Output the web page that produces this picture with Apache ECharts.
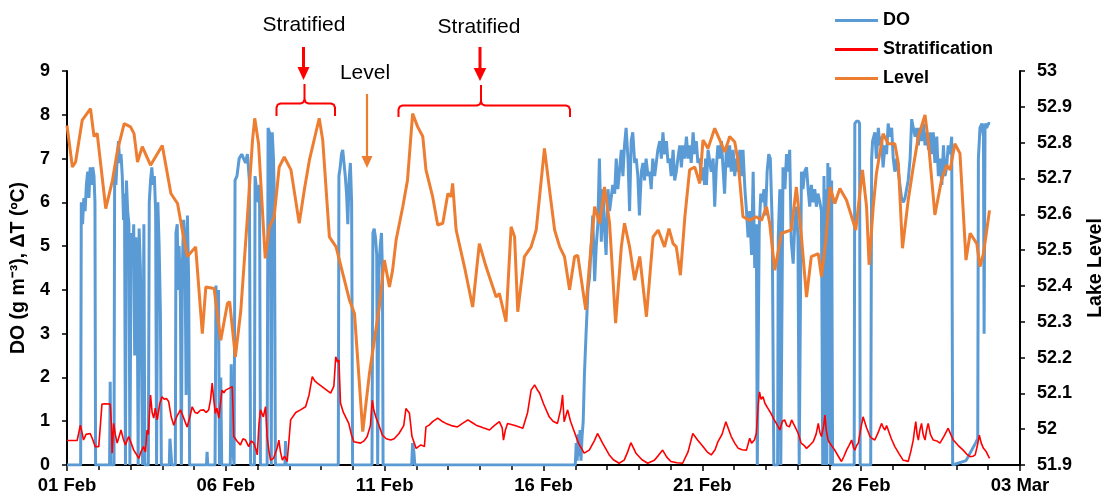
<!DOCTYPE html>
<html>
<head>
<meta charset="utf-8">
<script src="https://cdn.jsdelivr.net/npm/echarts@6/dist/echarts.min.js"></script>
<style>
html,body{margin:0;padding:0;background:#fff;}
#chart{width:1105px;height:498px;}
</style>
</head>
<body>
<div id="chart"></div>
<script>
// x values are days since 01 Feb 00:00
var xTickLabels = ['01 Feb','06 Feb','11 Feb','16 Feb','21 Feb','26 Feb','03 Mar'];
var leftTicks = [0,1,2,3,4,5,6,7,8,9];
var rightTicks = [51.9,52,52.1,52.2,52.3,52.4,52.5,52.6,52.7,52.8,52.9,53];
var seriesNames = ['DO','Stratification','Level'];

var doData = [
[0,0],[0.43,0],[0.45,6.0],[0.49,5.5],[0.53,6.1],[0.57,5.8],[0.61,6.4],[0.65,6.7],[0.69,6.1],[0.73,6.8],[0.77,6.4],[0.81,6.8],[0.85,6.6],[0.88,6.0],[0.9,0],
[1.34,0],[1.36,1.9],[1.38,0],[1.48,0],[1.5,6.8],[1.54,6.4],[1.58,7.0],[1.62,7.4],[1.66,6.9],[1.7,7.1],[1.74,6.6],[1.78,5.6],[1.81,6.2],[1.84,0],[1.87,6.5],[1.91,5.8],[1.95,5.5],[1.98,0],[2.02,5.3],[2.06,4.6],[2.1,5.5],[2.13,2.5],[2.17,5.2],[2.21,4.0],[2.24,0],[2.27,5.4],[2.31,4.5],[2.35,2.1],[2.38,0],[2.42,5.5],[2.45,0],
[2.56,0],[2.59,6.0],[2.63,6.5],[2.67,6.8],[2.71,6.4],[2.75,6.6],[2.79,5.8],[2.82,0],[2.86,6.0],[2.9,5.0],[2.94,3.5],[2.97,0],
[3.22,0],[3.24,0.6],[3.28,0.2],[3.3,0],
[3.41,0],[3.43,5.3],[3.47,5.5],[3.5,4.0],[3.53,5.0],[3.57,3.8],[3.6,0],[3.63,4.5],[3.67,5.6],[3.71,5.2],[3.75,1.6],[3.79,5.7],[3.83,4.2],[3.86,0],
[4.39,0],[4.41,0.3],[4.43,0],
[4.66,0],[4.69,4.1],[4.73,3.0],[4.77,4.0],[4.8,0],[4.84,2.0],[4.87,0],
[5.14,0],[5.17,2.3],[5.2,0.5],[5.26,0],[5.29,6.5],[5.35,6.6],[5.42,7.0],[5.5,7.1],[5.56,7.0],[5.62,6.9],[5.68,7.1],[5.74,6.5],[5.78,0],
[5.9,0],[5.92,6.6],[5.97,6.3],[6.02,6.0],[6.06,6.4],[6.09,0],
[6.3,0],[6.33,7.7],[6.37,7.6],[6.4,7.2],[6.43,0],[6.46,7.6],[6.5,7.0],[6.53,6.0],[6.56,0],
[6.86,0],[6.88,0.55],[6.9,0],
[8.54,0],[8.56,6.6],[8.6,6.8],[8.64,7.1],[8.68,7.2],[8.72,6.9],[8.76,6.6],[8.8,6.2],[8.84,5.5],[8.88,6.5],[8.92,6.9],[8.96,6.0],[8.99,0],
[9.6,0],[9.63,5.3],[9.67,5.4],[9.71,5.2],[9.75,4.8],[9.78,0],[9.82,4.5],[9.86,5.0],[9.9,5.3],[9.93,4.4],[9.95,0],
[10.85,0],[10.88,0.5],[10.92,0.3],[10.95,0],
[16.0,0],[16.03,0.5],[16.06,0.1],[16.09,0.7],[16.12,0.2],[16.15,0.8],[16.18,0.1],[16.21,0.6],[16.25,1.0],[16.29,2.1],[16.34,3.0],[16.4,4.0],[16.45,4.3],[16.5,5.0],[16.55,5.7],[16.61,4.2],[16.66,5.0],[16.71,5.5],[16.76,7.0],[16.82,5.1],[16.87,6.3],[16.92,5.4],[16.97,4.8],[17.03,6.3],[17.08,5.8],[17.13,6.1],[17.18,6.4],[17.24,6.2],[17.29,7.0],[17.34,6.3],[17.39,6.7],[17.45,7.2],[17.5,6.6],[17.55,7.3],[17.6,7.7],[17.66,7.0],[17.71,5.8],[17.76,7.4],[17.81,7.6],[17.87,6.9],[17.92,7.0],[17.97,6.6],[18.02,5.7],[18.08,6.7],[18.13,6.9],[18.18,6.5],[18.23,7.0],[18.29,6.6],[18.34,6.7],[18.39,6.3],[18.44,7.0],[18.5,6.6],[18.55,6.9],[18.6,7.2],[18.66,7.4],[18.71,7.0],[18.76,7.6],[18.81,7.1],[18.87,7.4],[18.92,6.9],[18.97,7.0],[19.02,6.6],[19.08,7.2],[19.13,6.5],[19.18,6.7],[19.23,7.0],[19.29,7.3],[19.34,6.8],[19.39,7.3],[19.44,7.0],[19.5,7.5],[19.55,7.0],[19.6,7.3],[19.65,6.9],[19.71,7.6],[19.76,7.1],[19.81,7.4],[19.86,6.9],[19.92,7.0],[19.97,6.5],
[20.02,6.8],[20.07,6.4],[20.1,7.0],[20.13,6.4],[20.18,7.2],[20.23,7.2],[20.28,6.7],[20.34,7.0],[20.39,5.9],[20.44,6.8],[20.49,7.3],[20.55,7.0],[20.6,7.4],[20.65,6.8],[20.7,6.2],[20.76,7.3],[20.81,6.8],[20.86,7.3],[20.91,6.7],[20.97,7.2],[21.02,6.6],[21.07,7.0],[21.12,6.7],[21.18,7.2],[21.23,6.6],[21.28,7.2],[21.34,6.3],[21.39,5.8],[21.44,5.2],[21.49,5.8],[21.55,4.8],[21.6,6.7],[21.65,4.5],[21.7,5.5],[21.73,0],[21.76,0],[21.79,5.4],[21.84,6.2],[21.89,6.0],[21.94,6.3],[21.99,5.7],[22.04,6.7],[22.09,7.1],[22.14,7.0],[22.2,5.5],[22.25,0],[22.37,0],[22.39,5.2],[22.44,6.3],[22.47,0],[22.5,0],[22.54,6.8],[22.6,6.3],[22.65,7.1],[22.7,6.7],[22.75,7.2],[22.8,5.1],[22.86,4.6],[22.91,5.5],[22.96,5.9],[23.01,5.2],[23.05,0],[23.08,0],[23.12,6.7],[23.17,6.3],[23.22,6.7],[23.28,6.8],[23.33,6.3],[23.38,5.9],[23.43,6.4],[23.49,6.0],[23.54,6.3],[23.59,5.9],[23.64,6.2],[23.7,6.0],[23.75,5.8],[23.79,0],[23.83,6.6],[23.86,0],[23.89,6.3],[23.92,0],[23.95,6.9],[23.98,0.5],[24.01,6.8],[24.04,0],[24.07,6.5],[24.1,0],
[24.78,0],[24.8,7.8],[24.85,7.85],[24.92,7.85],[24.95,7.8],[24.97,0],
[25.3,0],[25.33,7.0],[25.36,7.4],[25.43,7.6],[25.48,7.0],[25.54,7.7],[25.59,7.3],[25.64,7.5],[25.69,6.8],[25.75,7.3],[25.8,7.1],[25.85,7.8],[25.9,7.5],[25.96,7.7],[26.01,7.0],[26.06,6.7],[26.12,7.0],[26.17,6.7],[26.22,6.4],[26.27,6.1],[26.33,6.0],[26.38,6.1],[26.43,6.3],[26.48,6.5],[26.54,7.0],[26.59,7.9],[26.64,7.7],[26.7,7.5],[26.75,7.7],[26.8,7.3],[26.85,7.7],[26.9,7.4],[26.96,7.8],[27.01,7.3],[27.06,7.6],[27.12,7.2],[27.17,7.6],[27.22,7.1],[27.27,7.6],[27.32,6.9],[27.38,7.5],[27.43,6.6],[27.48,7.0],[27.54,6.4],[27.59,7.3],[27.64,6.6],[27.69,6.8],[27.74,7.3],[27.8,7.1],[27.85,7.5],[27.88,0],[28.3,0.1],[28.6,0.5],[28.67,0.6],[28.69,7.0],[28.74,7.7],[28.8,7.8],[28.85,7.5],[28.87,3.0],[28.9,7.8],[28.95,7.7],[29.0,7.8],[29.06,7.8]
];

var stratData = [
[0,0.56],[0.32,0.56],[0.38,0.6],[0.42,0.91],[0.47,0.75],[0.52,0.57],[0.6,0.7],[0.73,0.72],[0.8,0.6],[0.89,0.42],[1.0,0.42],[1.05,0.9],[1.1,1.39],[1.2,1.4],[1.36,1.39],[1.4,0.9],[1.42,0.27],[1.47,0.95],[1.52,0.7],[1.58,0.5],[1.64,0.65],[1.7,0.8],[1.77,0.6],[1.84,0.46],[1.94,0.65],[2.02,0.5],[2.1,0.34],[2.18,0.25],[2.26,0.15],[2.33,0.3],[2.41,0.42],[2.47,0.3],[2.52,0.8],[2.56,0.7],[2.63,1.6],[2.68,1.2],[2.73,1.07],[2.78,1.3],[2.84,1.03],[2.92,1.4],[2.99,1.56],[3.06,1.5],[3.13,1.52],[3.2,1.45],[3.28,1.1],[3.36,0.91],[3.45,1.1],[3.57,1.26],[3.66,1.1],[3.78,0.87],[3.87,1.1],[3.94,1.33],[4.03,1.2],[4.1,1.18],[4.2,1.25],[4.3,1.26],[4.38,1.2],[4.46,1.26],[4.52,1.5],[4.57,1.87],[4.62,1.5],[4.67,1.18],[4.72,1.3],[4.78,1.07],[4.83,1.4],[4.88,1.71],[4.94,1.65],[4.99,1.71],[5.1,1.75],[5.2,1.79],[5.23,1.2],[5.25,0.65],[5.35,0.55],[5.46,0.46],[5.54,0.6],[5.62,0.57],[5.72,0.42],[5.8,0.55],[5.88,0.5],[5.95,0.35],[5.99,0.23],[6.04,0.9],[6.09,1.26],[6.18,1.1],[6.25,1.33],[6.3,0.65],[6.36,0.3],[6.41,0.11],[6.5,0.15],[6.56,0.19],[6.62,0.4],[6.67,0.57],[6.72,0.3],[6.78,0.11],[6.85,0.2],[6.93,0.08],[6.98,0.5],[7.04,1.03],[7.2,1.2],[7.35,1.26],[7.51,1.33],[7.62,1.6],[7.72,2.02],[7.8,1.92],[7.88,1.87],[8.1,1.75],[8.3,1.64],[8.4,1.8],[8.46,2.47],[8.52,2.35],[8.56,2.4],[8.61,1.41],[8.7,1.2],[8.87,0.95],[8.95,0.7],[9.03,0.53],[9.24,0.5],[9.35,0.55],[9.45,0.65],[9.55,0.9],[9.61,1.48],[9.66,1.25],[9.72,1.1],[9.82,0.91],[9.93,0.68],[10.05,0.6],[10.19,0.57],[10.3,0.6],[10.45,0.72],[10.6,0.9],[10.67,1.29],[10.72,1.33],[10.78,1.18],[10.86,0.65],[10.99,0.38],[11.14,0.46],[11.25,0.42],[11.3,0.87],[11.4,0.91],[11.51,0.99],[11.67,1.07],[11.8,1.0],[11.93,0.95],[12.1,0.9],[12.29,0.87],[12.45,0.95],[12.62,1.03],[12.75,0.97],[12.88,0.91],[13.1,0.85],[13.3,0.8],[13.45,0.9],[13.61,0.99],[13.7,0.85],[13.74,0.57],[13.8,0.8],[13.87,0.95],[14.1,0.9],[14.35,0.84],[14.5,1.2],[14.61,1.71],[14.72,1.83],[14.76,1.87],[14.82,1.7],[14.88,1.64],[15.0,1.4],[15.18,1.1],[15.3,1.0],[15.44,0.95],[15.55,1.3],[15.6,1.6],[15.65,0.99],[15.76,1.26],[15.85,1.0],[15.97,0.76],[16.1,0.5],[16.28,0.27],[16.44,0.34],[16.6,0.55],[16.7,0.72],[16.86,0.5],[17.07,0.23],[17.2,0.12],[17.38,0.04],[17.54,0.11],[17.65,0.3],[17.75,0.51],[17.91,0.27],[18.1,0.12],[18.28,0.04],[18.49,0.11],[18.62,0.22],[18.75,0.34],[18.88,0.18],[19.01,0.08],[19.2,0.05],[19.38,0.04],[19.55,0.3],[19.7,0.72],[19.85,0.57],[20.02,0.42],[20.15,0.3],[20.28,0.23],[20.4,0.35],[20.49,0.53],[20.62,0.7],[20.74,0.99],[20.91,0.65],[21.02,0.5],[21.13,0.38],[21.25,0.35],[21.39,0.34],[21.49,0.61],[21.55,0.5],[21.64,0.57],[21.7,0.72],[21.76,1.4],[21.8,1.67],[21.85,1.5],[21.91,1.56],[21.97,1.41],[22.06,1.3],[22.16,1.18],[22.25,1.05],[22.33,0.95],[22.44,0.8],[22.52,1.0],[22.59,1.03],[22.66,0.9],[22.74,0.87],[22.81,1.03],[22.9,0.9],[23.02,0.72],[23.11,0.5],[23.2,0.45],[23.28,0.38],[23.38,0.45],[23.49,0.53],[23.58,0.7],[23.65,0.95],[23.7,0.75],[23.75,0.65],[23.82,0.9],[23.86,1.14],[23.9,0.8],[23.96,0.57],[24.06,0.45],[24.17,0.34],[24.28,0.2],[24.38,0.08],[24.46,0.2],[24.54,0.34],[24.62,0.45],[24.7,0.57],[24.76,0.4],[24.8,0.34],[24.86,0.45],[24.91,0.5],[24.98,0.8],[25.06,1.1],[25.17,0.85],[25.28,0.65],[25.36,0.6],[25.43,0.57],[25.54,0.75],[25.64,0.95],[25.7,0.85],[25.75,0.8],[25.8,0.9],[25.85,0.87],[25.95,0.6],[26.06,0.42],[26.2,0.25],[26.32,0.11],[26.4,0.1],[26.48,0.08],[26.56,0.3],[26.64,0.57],[26.68,0.8],[26.72,0.99],[26.76,0.7],[26.8,0.57],[26.85,0.8],[26.9,0.95],[26.95,0.7],[27.01,0.57],[27.06,0.8],[27.11,0.95],[27.18,0.7],[27.27,0.57],[27.38,0.55],[27.48,0.5],[27.6,0.65],[27.74,0.84],[27.82,0.7],[27.9,0.57],[28.05,0.45],[28.21,0.34],[28.32,0.25],[28.43,0.19],[28.52,0.2],[28.59,0.23],[28.66,0.45],[28.72,0.68],[28.78,0.5],[28.85,0.38],[28.94,0.3],[29.04,0.15]
];

var levelData = [
[0.0,52.848],[0.17,52.732],[0.27,52.746],[0.48,52.863],[0.74,52.895],[0.85,52.817],[0.95,52.826],[1.22,52.616],[1.43,52.694],[1.59,52.779],[1.80,52.853],[2.00,52.844],[2.11,52.825],[2.22,52.746],[2.37,52.789],[2.63,52.737],[3.00,52.792],[3.27,52.658],[3.48,52.630],[3.62,52.560],[3.79,52.482],[4.05,52.509],[4.26,52.267],[4.37,52.397],[4.63,52.393],[4.84,52.248],[5.05,52.351],[5.12,52.356],[5.30,52.202],[5.47,52.330],[5.68,52.593],[5.84,52.807],[5.91,52.868],[6.03,52.797],[6.24,52.477],[6.37,52.565],[6.52,52.593],[6.68,52.732],[6.84,52.760],[7.05,52.724],[7.31,52.575],[7.47,52.668],[7.63,52.751],[7.94,52.868],[8.05,52.807],[8.26,52.537],[8.47,52.509],[8.89,52.361],[9.05,52.323],[9.31,51.993],[9.52,52.155],[9.83,52.341],[9.99,52.472],[10.15,52.397],[10.25,52.444],[10.36,52.528],[10.57,52.621],[10.72,52.696],[10.88,52.881],[11.04,52.844],[11.20,52.817],[11.30,52.724],[11.51,52.649],[11.67,52.570],[11.83,52.575],[11.99,52.658],[12.09,52.649],[12.14,52.686],[12.25,52.556],[12.51,52.454],[12.77,52.341],[12.98,52.518],[13.19,52.454],[13.51,52.369],[13.61,52.379],[13.82,52.300],[13.98,52.565],[14.09,52.537],[14.19,52.328],[14.40,52.482],[14.61,52.509],[14.77,52.556],[15.03,52.784],[15.19,52.668],[15.35,52.556],[15.51,52.509],[15.66,52.482],[15.82,52.389],[15.98,52.482],[16.08,52.485],[16.33,52.333],[16.45,52.462],[16.61,52.621],[16.77,52.575],[16.92,52.676],[17.08,52.575],[17.27,52.296],[17.45,52.509],[17.55,52.575],[17.71,52.509],[17.87,52.416],[18.03,52.482],[18.24,52.314],[18.45,52.537],[18.61,52.556],[18.81,52.509],[18.95,52.560],[19.08,52.518],[19.18,52.509],[19.31,52.430],[19.45,52.593],[19.60,52.724],[19.76,52.732],[19.92,52.686],[20.02,52.807],[20.18,52.784],[20.39,52.840],[20.55,52.807],[20.71,52.774],[20.86,52.817],[21.02,52.802],[21.12,52.751],[21.28,52.593],[21.49,52.583],[21.70,52.593],[21.86,52.583],[22.02,52.621],[22.12,52.575],[22.28,52.444],[22.49,52.547],[22.80,52.556],[22.96,52.676],[23.12,52.537],[23.28,52.369],[23.43,52.482],[23.65,52.490],[23.75,52.426],[23.89,52.528],[24.02,52.676],[24.17,52.630],[24.33,52.672],[24.54,52.639],[24.70,52.593],[24.83,52.556],[25.04,52.724],[25.17,52.621],[25.25,52.459],[25.38,52.621],[25.48,52.714],[25.69,52.825],[25.85,52.797],[26.06,52.797],[26.17,52.742],[26.30,52.505],[26.48,52.639],[26.64,52.732],[26.80,52.817],[27.01,52.877],[27.11,52.807],[27.32,52.598],[27.53,52.696],[27.69,52.737],[27.80,52.724],[27.95,52.797],[28.11,52.770],[28.30,52.472],[28.43,52.547],[28.64,52.518],[28.74,52.454],[28.85,52.490],[29.04,52.611]
];

var FONT = '"Liberation Sans", Arial, sans-serif';
var chart = echarts.init(document.getElementById('chart'), null, {renderer: 'canvas'});
var axisLineStyle = {color: '#000', width: 2};
var tickStyle = {color: '#000', width: 1.5};

function annoText(txt, x, y) {
  return {type: 'text', x: x, y: y, z: 100,
    style: {text: txt, fill: '#000', font: '21px ' + FONT, align: 'center', verticalAlign: 'middle'}};
}
function arrow(x, y1, y2, color, w, hw, hh) {
  return [
    {type: 'line', z: 100, shape: {x1: x, y1: y1, x2: x, y2: y2 - hh + 1}, style: {stroke: color, lineWidth: w}},
    {type: 'polygon', z: 100, shape: {points: [[x - hw, y2 - hh], [x + hw, y2 - hh], [x, y2]]}, style: {fill: color}}
  ];
}
function bracket(xl, xc, xr, y, ytop, ybot) {
  var r = 4, c = 1.2;
  var st = {stroke: '#ff0000', lineWidth: 2, fill: null, lineJoin: 'round'};
  return [
    {type: 'polyline', z: 100, style: st, shape: {points: [
      [xl, ybot], [xl, y + r], [xl + c, y + c], [xl + r, y], [xc - r, y], [xc - c, y - c], [xc, y - r], [xc, ytop]]}},
    {type: 'polyline', z: 100, style: st, shape: {points: [
      [xc, y - r], [xc + c, y - c], [xc + r, y], [xr - r, y], [xr - c, y + c], [xr, y + r], [xr, ybot]]}}
  ];
}

var graphics = [].concat(
  [annoText('Stratified', 304, 25)],
  arrow(303.5, 47, 80, '#ff0000', 3, 6, 13),
  bracket(276.5, 304.5, 335, 103.5, 84, 116),
  [annoText('Level', 365, 73)],
  arrow(367, 94, 168, '#ED7D31', 2.2, 5.5, 12),
  [annoText('Stratified', 479, 27)],
  arrow(480, 47, 81, '#ff0000', 3, 6.3, 13),
  bracket(398.5, 481, 570, 105.5, 85, 117)
);

var option = {
  animation: false,
  backgroundColor: '#fff',
  textStyle: {fontFamily: FONT},
  grid: {left: 67, right: 85, top: 71, bottom: 33, containLabel: false, outerBoundsMode: 'none'},
  legend: {
    orient: 'vertical', left: 835, top: 11, padding: 0,
    itemWidth: 43, itemHeight: 3, itemGap: 10,
    icon: 'rect',
    data: seriesNames,
    textStyle: {fontFamily: FONT, fontSize: 18, fontWeight: 'bold', color: '#000', lineHeight: 19}
  },
  xAxis: {
    type: 'value', min: 0, max: 30, interval: 5,
    axisLine: {show: true, onZero: false, lineStyle: axisLineStyle},
    axisTick: {show: true, length: 6, lineStyle: tickStyle},
    minorTick: {show: true, splitNumber: 5, length: 5, lineStyle: tickStyle},
    splitLine: {show: false}, minorSplitLine: {show: false},
    axisLabel: {
      margin: 11, color: '#000', fontSize: 18.5, fontWeight: 'bold', fontFamily: FONT,
      formatter: function (v) { return xTickLabels[Math.round(v / 5)] || ''; }
    }
  },
  yAxis: [
    {
      type: 'value', min: leftTicks[0], max: leftTicks[leftTicks.length - 1], interval: 1, position: 'left',
      name: 'DO (g m⁻³), ΔT (ºC)', nameLocation: 'middle', nameGap: 36,
      nameTextStyle: {color: '#000', fontSize: 19.5, fontWeight: 'bold', fontFamily: FONT},
      axisLine: {show: true, lineStyle: axisLineStyle},
      axisTick: {show: true, length: 5, lineStyle: tickStyle},
      splitLine: {show: false},
      axisLabel: {margin: 17, color: '#000', fontSize: 18, fontWeight: 'bold', fontFamily: FONT}
    },
    {
      type: 'value', min: rightTicks[0], max: rightTicks[rightTicks.length - 1], interval: 0.1, position: 'right',
      name: 'Lake Level', nameLocation: 'middle', nameGap: 66,
      nameTextStyle: {color: '#000', fontSize: 19.5, fontWeight: 'bold', fontFamily: FONT},
      axisLine: {show: true, lineStyle: axisLineStyle},
      axisTick: {show: true, length: 5, lineStyle: tickStyle},
      splitLine: {show: false},
      axisLabel: {margin: 17, color: '#000', fontSize: 18, fontWeight: 'bold', fontFamily: FONT,
        formatter: function (v) { return String(Number(v.toFixed(1))); }}
    }
  ],
  series: [
    {name: seriesNames[0], type: 'line', yAxisIndex: 0, data: doData, symbol: 'none', showSymbol: false,
      lineStyle: {color: '#5B9BD5', width: 3}, itemStyle: {color: '#5B9BD5'}, z: 2},
    {name: seriesNames[1], type: 'line', yAxisIndex: 0, data: stratData, symbol: 'none', showSymbol: false,
      lineStyle: {color: '#FF0000', width: 1.6}, itemStyle: {color: '#FF0000'}, z: 3},
    {name: seriesNames[2], type: 'line', yAxisIndex: 1, data: levelData, symbol: 'none', showSymbol: false,
      lineStyle: {color: '#ED7D31', width: 3}, itemStyle: {color: '#ED7D31'}, z: 4}
  ],
  graphic: graphics
};
chart.setOption(option);
</script>
</body>
</html>
